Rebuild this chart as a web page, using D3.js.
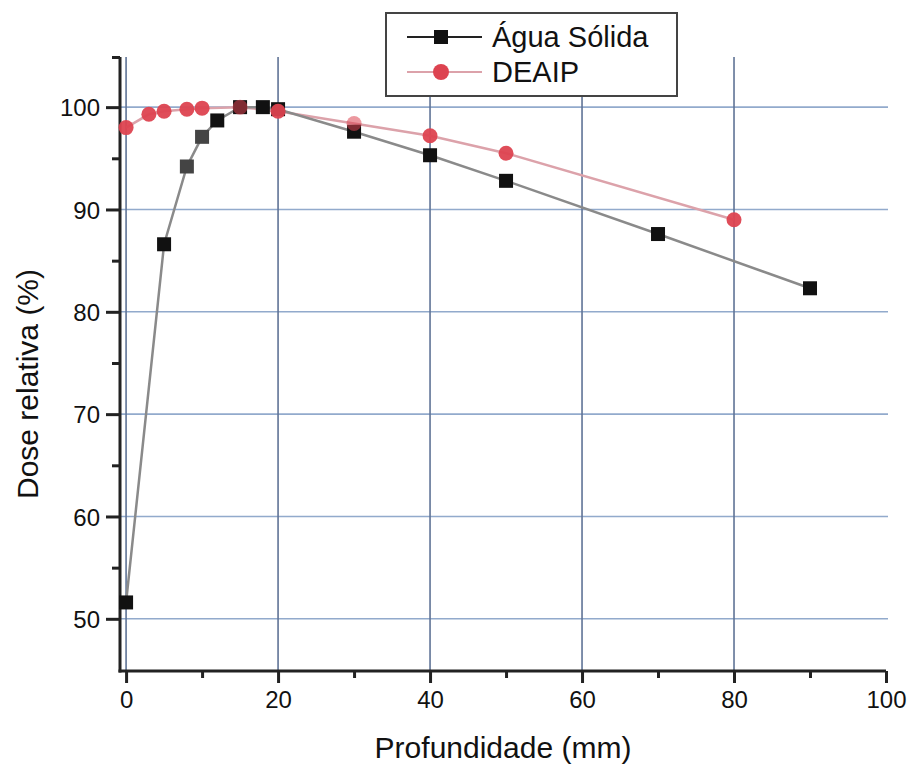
<!DOCTYPE html>
<html>
<head>
<meta charset="utf-8">
<script src="https://cdn.jsdelivr.net/npm/d3@7"></script>
<style>
  body { margin: 0; background: #fff; }
  text { font-family: "Liberation Sans", Arial, sans-serif; fill: #111; }
</style>
</head>
<body>
<div id="canvas"></div>
<script>
// data
let aguaX = [0, 5, 8, 10, 12, 15, 18, 20, 30, 40, 50, 70, 90];
let aguaY = [51.6, 86.6, 94.2, 97.1, 98.7, 100.0, 100.0, 99.8, 97.6, 95.3, 92.8, 87.6, 82.3];
let deaipX = [0, 3, 5, 8, 10, 15, 20, 30, 40, 50, 80];
let deaipY = [98.0, 99.3, 99.6, 99.8, 99.9, 100.0, 99.6, 98.4, 97.2, 95.5, 89.0];
let xTicks = [0, 20, 40, 60, 80, 100];
let yTicks = [50, 60, 70, 80, 90, 100];
let seriesNames = ["Água Sólida", "DEAIP"];

let width = 910, height = 769;
let plot = {left: 120, right: 888, top: 57, bottom: 671};

let svg = d3.select("#canvas").append("svg")
    .attr("width", width)
    .attr("height", height);

let x = d3.scaleLinear().domain([-0.8, 100]).range([plot.left, 886]);
let y = d3.scaleLinear().domain([44.9, 104.9]).range([plot.bottom, plot.top]);

// grid
svg.append("g").selectAll("line")
    .data(yTicks)
    .enter().append("line")
    .attr("x1", plot.left).attr("x2", plot.right)
    .attr("y1", d => y(d)).attr("y2", d => y(d))
    .attr("stroke", "#7f9cc4").attr("stroke-width", 1.6).attr("opacity", 0.85);

svg.append("g").selectAll("line")
    .data(xTicks.filter(d => d < 100))
    .enter().append("line")
    .attr("y1", plot.top).attr("y2", plot.bottom)
    .attr("x1", d => x(d)).attr("x2", d => x(d))
    .attr("stroke", "#5f7396").attr("stroke-width", 1.6);

// axes
let xAxis = d3.axisBottom(x).tickValues(xTicks).tickSizeInner(12).tickSizeOuter(0).tickPadding(8);
let xMinor = d3.axisBottom(x).tickValues([10, 30, 50, 70, 90]).tickSize(7).tickFormat("");
let yAxis = d3.axisLeft(y).tickValues(yTicks).tickSizeInner(14).tickSizeOuter(0).tickPadding(6);
let yMinor = d3.axisLeft(y).tickValues([55, 65, 75, 85, 95, 104.9]).tickSize(8).tickFormat("");

let gx = svg.append("g").attr("transform", "translate(0," + plot.bottom + ")").call(xAxis);
svg.append("g").attr("transform", "translate(0," + plot.bottom + ")").call(xMinor);
let gy = svg.append("g").attr("transform", "translate(" + plot.left + ",0)").call(yAxis);
svg.append("g").attr("transform", "translate(" + plot.left + ",0)").call(yMinor);

svg.selectAll(".domain").remove();
svg.selectAll(".tick line").attr("stroke", "#222").attr("stroke-width", 3);
gx.selectAll("text").style("font-size", "24px").attr("fill", "#111");
gy.selectAll("text").style("font-size", "24px").attr("fill", "#111").attr("dy", "0.36em");

svg.append("line").attr("x1", plot.left).attr("x2", plot.left).attr("y1", plot.top).attr("y2", plot.bottom + 1.5)
    .attr("stroke", "#222").attr("stroke-width", 3);
svg.append("line").attr("x1", plot.left - 1.5).attr("x2", 886).attr("y1", plot.bottom).attr("y2", plot.bottom)
    .attr("stroke", "#222").attr("stroke-width", 3);

// lines
let line = d3.line().x(d => x(d[0])).y(d => y(d[1]));
let agua = aguaX.map((d, i) => [d, aguaY[i]]);
let deaip = deaipX.map((d, i) => [d, deaipY[i]]);

svg.append("path").datum(deaip).attr("d", line)
    .attr("fill", "none").attr("stroke", "#dca2aa").attr("stroke-width", 2.5);
svg.append("path").datum(agua).attr("d", line)
    .attr("fill", "none").attr("stroke", "#8a8a8a").attr("stroke-width", 2.5);

// markers
svg.append("g").selectAll("rect")
    .data(agua)
    .enter().append("rect")
    .attr("x", d => x(d[0]) - 7).attr("y", d => y(d[1]) - 7)
    .attr("width", 14).attr("height", 14)
    .attr("fill", (d, i) => (i >= 2 && i <= 3) ? "#444" : "#111");

svg.append("g").selectAll("circle")
    .data(deaip)
    .enter().append("circle")
    .attr("cx", d => x(d[0])).attr("cy", d => y(d[1]))
    .attr("r", 7.5)
    .attr("fill", "#dd4350")
    .attr("opacity", (d, i) => (d[0] == 15 || d[0] == 30) ? 0.55 : 0.95);

// axis titles
svg.append("text")
    .attr("x", 503).attr("y", 758)
    .attr("text-anchor", "middle")
    .style("font-size", "30px")
    .text("Profundidade (mm)");

svg.append("text")
    .attr("transform", "translate(38,384) rotate(-90)")
    .attr("text-anchor", "middle")
    .style("font-size", "30px")
    .text("Dose relativa (%)");

// legend
let legend = svg.append("g");
legend.append("rect")
    .attr("x", 386).attr("y", 13).attr("width", 291).attr("height", 83)
    .attr("fill", "#fff").attr("stroke", "#444").attr("stroke-width", 2);

let legendY = [37, 72];
let legendColors = ["#111", "#dd4350"];
seriesNames.forEach(function(name, i) {
    legend.append("line")
        .attr("x1", 407).attr("x2", 482)
        .attr("y1", legendY[i]).attr("y2", legendY[i])
        .attr("stroke", i == 0 ? "#222" : "#dca2aa").attr("stroke-width", 2);
    if (i == 0) {
        legend.append("rect").attr("x", 434).attr("y", legendY[i] - 7)
            .attr("width", 14).attr("height", 14).attr("fill", legendColors[i]);
    } else {
        legend.append("circle").attr("cx", 441).attr("cy", legendY[i])
            .attr("r", 8).attr("fill", legendColors[i]);
    }
    legend.append("text")
        .attr("x", 492).attr("y", legendY[i] + 10)
        .style("font-size", "29px")
        .text(name);
});
</script>
</body>
</html>
